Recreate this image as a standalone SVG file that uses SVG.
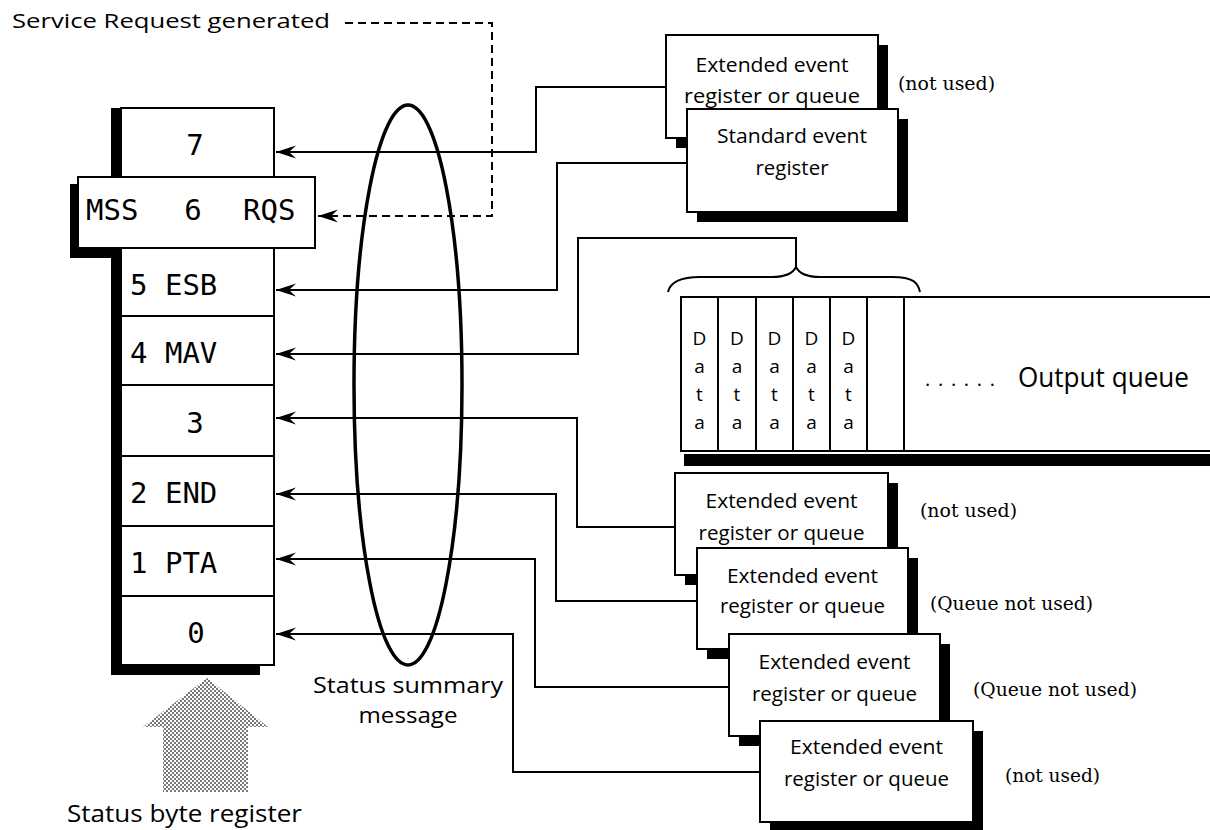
<svg xmlns="http://www.w3.org/2000/svg" width="1210" height="830" viewBox="0 0 1210 830">
<style>
.sans{font-family:"Open Sans","Liberation Sans",sans-serif;fill:#000}
.mono{font-family:"DejaVu Sans Mono","Liberation Mono",monospace;font-size:29px;fill:#000}
.serif{font-family:"DejaVu Serif","Liberation Serif",serif;font-size:18px;fill:#000}
.box{fill:#fff;stroke:#000;stroke-width:2}
.shadow{fill:#000}
.line{fill:none;stroke:#000;stroke-width:2}
.conn{fill:none;stroke:#000;stroke-width:2;marker-end:url(#arr)}
.dash{fill:none;stroke:#000;stroke-width:2;stroke-dasharray:8 5;marker-end:url(#arr)}
.bt{font-size:20px;text-anchor:middle}
</style>
<defs>
<marker id="arr" markerUnits="userSpaceOnUse" markerWidth="22" markerHeight="16" viewBox="0 -8 22 16" refX="21" refY="0" orient="auto">
<path d="M21,0 L1,-6.5 L8,0 L1,6.5 Z" fill="#000"/>
</marker>
<pattern id="halftone" width="4" height="4" patternUnits="userSpaceOnUse">
<rect width="4" height="4" fill="#fff"/>
<rect width="2" height="2" fill="#777"/>
<rect x="2" y="2" width="2" height="2" fill="#777"/>
</pattern>
</defs>
<rect width="1210" height="830" fill="#fff"/>

<text class="sans" x="12" y="28" font-size="20" textLength="318" lengthAdjust="spacingAndGlyphs">Service Request generated</text>

<g id="status-byte-register">
<rect class="shadow" x="70" y="184" width="60" height="74"/>
<rect class="shadow" x="111" y="108" width="10" height="567"/>
<rect class="shadow" x="111" y="665" width="149" height="10"/>
<rect class="box" x="121" y="108" width="153" height="557"/>
<line class="line" x1="121" y1="316" x2="274" y2="316"/>
<line class="line" x1="121" y1="385" x2="274" y2="385"/>
<line class="line" x1="121" y1="456" x2="274" y2="456"/>
<line class="line" x1="121" y1="526" x2="274" y2="526"/>
<line class="line" x1="121" y1="596" x2="274" y2="596"/>
<rect class="box" x="78" y="177" width="237" height="71" stroke-width="3"/>
<text class="mono" x="195" y="155" text-anchor="middle">7</text>
<text class="mono" x="86" y="220">MSS</text>
<text class="mono" x="193" y="220" text-anchor="middle">6</text>
<text class="mono" x="243" y="220">RQS</text>
<text class="mono" x="130" y="295">5 ESB</text>
<text class="mono" x="130" y="363">4 MAV</text>
<text class="mono" x="195" y="433" text-anchor="middle">3</text>
<text class="mono" x="130" y="503">2 END</text>
<text class="mono" x="130" y="573">1 PTA</text>
<text class="mono" x="196" y="643" text-anchor="middle">0</text>
<path d="M207,678 L268,727 L248,727 L248,792 L163,792 L163,727 L143,727 Z" fill="url(#halftone)"/>
<text class="sans" x="67" y="822" font-size="23" textLength="235" lengthAdjust="spacingAndGlyphs">Status byte register</text>
</g>

<g id="status-summary">
<ellipse cx="408" cy="385" rx="54" ry="280" fill="none" stroke="#000" stroke-width="3.5"/>
<text class="sans" x="408" y="693" font-size="22" text-anchor="middle" textLength="190" lengthAdjust="spacingAndGlyphs">Status summary</text>
<text class="sans" x="408" y="723" font-size="22" text-anchor="middle" textLength="99" lengthAdjust="spacingAndGlyphs">message</text>
</g>

<g id="connectors">
<path class="dash" d="M345,23 H492 V216 H318"/>
<path class="conn" d="M666,87 H536 V152 H276"/>
<path class="conn" d="M687,163 H557 V290 H276"/>
<path class="conn" d="M796,267 V238 H578 V354 H276"/>
<path class="conn" d="M675,527 H577 V418 H276"/>
<path class="conn" d="M697,601 H556 V494 H276"/>
<path class="conn" d="M729,687 H535 V559 H276"/>
<path class="conn" d="M760,772 H513 V634 H276"/>
</g>

<g id="ext-event-top">
<rect class="shadow" x="676" y="45" width="212" height="103"/>
<rect class="box" x="666" y="35" width="212" height="103"/>
<text class="sans bt" x="772" y="72" textLength="153" lengthAdjust="spacingAndGlyphs">Extended event</text>
<text class="sans bt" x="772" y="103" textLength="176" lengthAdjust="spacingAndGlyphs">register or queue</text>
<text class="serif" x="898" y="90" textLength="97" lengthAdjust="spacingAndGlyphs">(not used)</text>
</g>

<g id="standard-event">
<rect class="shadow" x="697" y="119" width="211" height="103"/>
<rect class="box" x="687" y="109" width="211" height="103"/>
<text class="sans bt" x="792" y="143" textLength="150" lengthAdjust="spacingAndGlyphs">Standard event</text>
<text class="sans bt" x="792" y="175" textLength="73" lengthAdjust="spacingAndGlyphs">register</text>
</g>

<g id="output-queue">
<path class="line" d="M668,292 C670,283 678,277 700,277 L772,277 C786,277 793,273 796,267 C799,273 806,277 820,277 L892,277 C914,277 918,283 920,292"/>
<rect class="shadow" x="684" y="454" width="526" height="12"/>
<path class="line" d="M1210,297 H681 V451 H1210"/>
<line class="line" x1="718" y1="297" x2="718" y2="451"/>
<line class="line" x1="756" y1="297" x2="756" y2="451"/>
<line class="line" x1="793" y1="297" x2="793" y2="451"/>
<line class="line" x1="830" y1="297" x2="830" y2="451"/>
<line class="line" x1="867" y1="297" x2="867" y2="451"/>
<line class="line" x1="904" y1="297" x2="904" y2="451"/>
<g class="sans" font-size="19" text-anchor="middle">
<text x="699.5" y="345">D<tspan x="699.5" dy="28">a</tspan><tspan x="699.5" dy="28">t</tspan><tspan x="699.5" dy="28">a</tspan></text>
<text x="737" y="345">D<tspan x="737" dy="28">a</tspan><tspan x="737" dy="28">t</tspan><tspan x="737" dy="28">a</tspan></text>
<text x="774.5" y="345">D<tspan x="774.5" dy="28">a</tspan><tspan x="774.5" dy="28">t</tspan><tspan x="774.5" dy="28">a</tspan></text>
<text x="811.5" y="345">D<tspan x="811.5" dy="28">a</tspan><tspan x="811.5" dy="28">t</tspan><tspan x="811.5" dy="28">a</tspan></text>
<text x="848.5" y="345">D<tspan x="848.5" dy="28">a</tspan><tspan x="848.5" dy="28">t</tspan><tspan x="848.5" dy="28">a</tspan></text>
</g>
<text class="sans" x="925" y="386" font-size="20" textLength="70" lengthAdjust="spacing">......</text>
<text class="sans" x="1018" y="387" font-size="27" textLength="171" lengthAdjust="spacingAndGlyphs">Output queue</text>
</g>

<g id="ext-event-a">
<rect class="shadow" x="685" y="483" width="213" height="102"/>
<rect class="box" x="675" y="473" width="213" height="102"/>
<text class="sans bt" x="781.5" y="508" textLength="152" lengthAdjust="spacingAndGlyphs">Extended event</text>
<text class="sans bt" x="781.5" y="540" textLength="166" lengthAdjust="spacingAndGlyphs">register or queue</text>
<text class="serif" x="920" y="517" textLength="97" lengthAdjust="spacingAndGlyphs">(not used)</text>
</g>

<g id="ext-event-b">
<rect class="shadow" x="707" y="558" width="211" height="101"/>
<rect class="box" x="697" y="548" width="211" height="101"/>
<text class="sans bt" x="802.5" y="583" textLength="151" lengthAdjust="spacingAndGlyphs">Extended event</text>
<text class="sans bt" x="802.5" y="613" textLength="165" lengthAdjust="spacingAndGlyphs">register or queue</text>
<text class="serif" x="930" y="610" textLength="163" lengthAdjust="spacingAndGlyphs">(Queue not used)</text>
</g>

<g id="ext-event-c">
<rect class="shadow" x="739" y="644" width="211" height="102"/>
<rect class="box" x="729" y="634" width="211" height="102"/>
<text class="sans bt" x="834.5" y="669" textLength="152" lengthAdjust="spacingAndGlyphs">Extended event</text>
<text class="sans bt" x="834.5" y="701" textLength="165" lengthAdjust="spacingAndGlyphs">register or queue</text>
<text class="serif" x="973" y="696" textLength="164" lengthAdjust="spacingAndGlyphs">(Queue not used)</text>
</g>

<g id="ext-event-d">
<rect class="shadow" x="770" y="731" width="213" height="101"/>
<rect class="box" x="760" y="721" width="213" height="101"/>
<text class="sans bt" x="866.5" y="754" textLength="153" lengthAdjust="spacingAndGlyphs">Extended event</text>
<text class="sans bt" x="866.5" y="786" textLength="165" lengthAdjust="spacingAndGlyphs">register or queue</text>
<text class="serif" x="1005" y="782" textLength="95" lengthAdjust="spacingAndGlyphs">(not used)</text>
</g>
</svg>
